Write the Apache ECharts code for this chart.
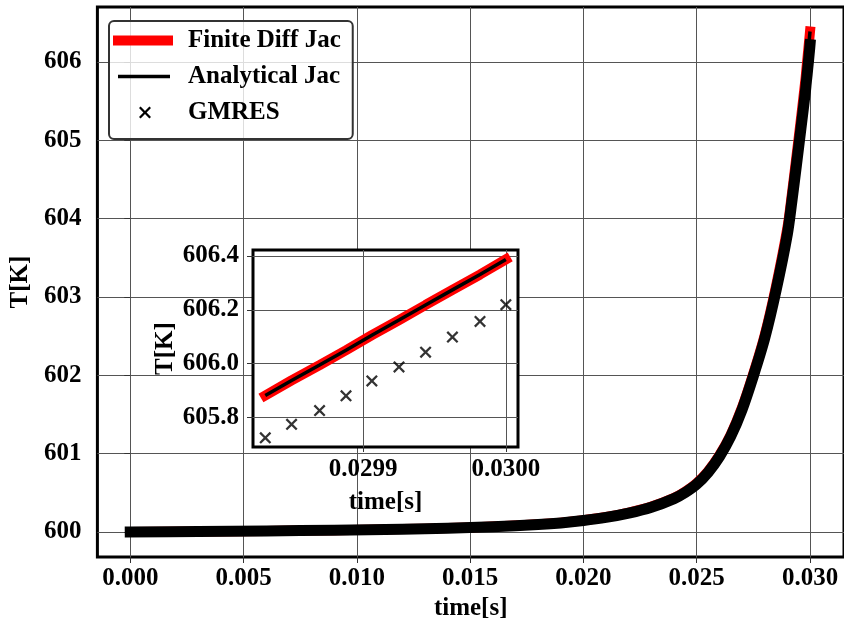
<!DOCTYPE html>
<html><head><meta charset="utf-8">
<script src="https://cdn.jsdelivr.net/npm/echarts@6/dist/echarts.min.js"></script>
<style>html,body{margin:0;padding:0;background:#fff}#c{width:844px;height:626px}</style>
</head><body><div id="c"></div>
<script>
// ---- data ----
// main plot: time [s] and temperature [K] (GMRES band centre and reference Jacobian line)
const timeMain = [0, 0.003, 0.006, 0.009, 0.012, 0.014, 0.016, 0.018, 0.019, 0.020, 0.021, 0.022, 0.023, 0.024, 0.0245, 0.025, 0.0255, 0.026, 0.0265, 0.027, 0.0275, 0.028, 0.0285, 0.029, 0.0292, 0.0294, 0.0296, 0.0298];
const tempGmresMain = [600.000, 600.006, 600.013, 600.022, 600.035, 600.048, 600.066, 600.095, 600.115, 600.145, 600.185, 600.240, 600.315, 600.425, 600.505, 600.610, 600.760, 600.960, 601.220, 601.560, 601.990, 602.470, 603.080, 603.800, 604.220, 604.680, 605.150, 605.630];
const tempFiniteDiffMain = [600.000, 600.006, 600.013, 600.022, 600.036, 600.049, 600.068, 600.098, 600.119, 600.150, 600.191, 600.247, 600.324, 600.436, 600.518, 600.625, 600.777, 600.980, 601.243, 601.590, 602.025, 602.515, 603.140, 603.880, 604.315, 604.790, 605.275, 605.780];
const tempAnalyticalMain = tempFiniteDiffMain; // identical curve in the picture

// inset: last ten time steps
const timeInset = [0.0298316, 0.0298500, 0.0298696, 0.0298881, 0.0299062, 0.0299252, 0.0299438, 0.0299626, 0.0299819, 0.0300000];
const tempGmresInset = [605.725, 605.775, 605.826, 605.881, 605.936, 605.988, 606.043, 606.099, 606.157, 606.219];
const tempFiniteDiffInset = [605.882, 605.938, 605.995, 606.050, 606.106, 606.162, 606.218, 606.274, 606.331, 606.387];
const tempAnalyticalInset = tempFiniteDiffInset;

const seriesNames = ['Finite Diff Jac', 'Analytical Jac', 'GMRES'];

// ---- build ----
const pairs = (xs, ys) => xs.map((x, i) => [x, ys[i]]);
const allTime = timeMain.concat(timeInset);
const FONT = 'Liberation Serif';
const txt = (size) => ({fontFamily: FONT, fontWeight: 'bold', fontSize: size, color: '#000'});
const crossPath = 'path://M0,1.6 L1.6,0 L6,4.4 L10.4,0 L12,1.6 L7.6,6 L12,10.4 L10.4,12 L6,7.6 L1.6,12 L0,10.4 L4.4,6 Z';

const gridLine = {show: true, showMinLine: false, showMaxLine: false, lineStyle: {color: '#555', width: 1}};
const tick = {show: true, inside: false, length: 6, lineStyle: {color: '#333', width: 1}};
const smoothOpt = {smooth: 0.3};

const chart = echarts.init(document.getElementById('c'), null, {renderer: 'canvas'});
chart.setOption({
  animation: false,
  backgroundColor: '#fff',
  textStyle: {fontFamily: FONT},
  grid: [
    {left: 97, top: 7, right: -2, bottom: 69, show: true, backgroundColor: '#fff', borderColor: '#000', borderWidth: 3, z: 0},
    {left: 253, top: 250, width: 265, height: 197, show: true, backgroundColor: '#fff', borderColor: '#000', borderWidth: 3, z: 3}
  ],
  xAxis: [
    {gridIndex: 0, type: 'value', min: -0.00145, max: 0.0315, splitNumber: 5,
     axisLine: {show: false}, axisTick: tick, splitLine: gridLine,
     axisLabel: {...txt(25), margin: 9, showMinLabel: false, showMaxLabel: false, formatter: v => v.toFixed(3)},
     name: 'time[s]', nameLocation: 'middle', nameGap: 38, nameTextStyle: txt(25), z: 0},
    {gridIndex: 1, type: 'value', min: 0.029823, max: 0.0300085, splitNumber: 2,
     axisLine: {show: false}, axisTick: {...tick, length: 5}, splitLine: gridLine,
     axisLabel: {...txt(25), margin: 10, showMinLabel: false, showMaxLabel: false, formatter: v => v.toFixed(4)},
     name: 'time[s]', nameLocation: 'middle', nameGap: 43, nameTextStyle: txt(25), z: 4}
  ],
  yAxis: [
    {gridIndex: 0, type: 'value', min: 599.68, max: 606.70, splitNumber: 5,
     axisLine: {show: false}, axisTick: tick, splitLine: gridLine,
     axisLabel: {...txt(25), margin: 16, showMinLabel: false, showMaxLabel: false, formatter: v => v.toFixed(0)},
     name: 'T[K]', nameLocation: 'middle', nameGap: 58, nameTextStyle: txt(25), z: 0},
    {gridIndex: 1, type: 'value', min: 605.691, max: 606.422, splitNumber: 4,
     axisLine: {show: false}, axisTick: tick, splitLine: gridLine,
     axisLabel: {...txt(25), margin: 14, showMinLabel: false, showMaxLabel: false, formatter: v => v.toFixed(1)},
     name: 'T[K]', nameLocation: 'middle', nameGap: 75, nameTextStyle: txt(25), z: 4}
  ],
  legend: {
    orient: 'vertical', left: 109, top: 21, padding: [7, 12, 14, 4], itemGap: 11,
    itemWidth: 70, itemHeight: 14,
    backgroundColor: 'rgba(255,255,255,0.8)', borderColor: '#333', borderWidth: 2, borderRadius: 5,
    textStyle: {...txt(25), lineHeight: 24},
    itemStyle: {borderWidth: 0},
    selectedMode: false, z: 10,
    data: [
      {name: seriesNames[0], icon: 'path://M0,0 M70,14 M0,2 L60,2 L60,12 L0,12 Z'},
      {name: seriesNames[1], icon: 'path://M0,0 M70,14 M5,5.25 L57,5.25 L57,8.75 L5,8.75 Z'},
      {name: seriesNames[2], icon: 'path://M0,0 M70,14 M26,2.6 L27.6,1 L32,5.4 L36.4,1 L38,2.6 L33.6,7 L38,11.4 L36.4,13 L32,8.6 L27.6,13 L26,11.4 L30.4,7 Z'}
    ]
  },
  series: [
    // main plot
    {name: seriesNames[0], type: 'line', xAxisIndex: 0, yAxisIndex: 0, z: 2, showSymbol: false, symbol: 'none', ...smoothOpt,
     color: '#ff0000', lineStyle: {color: '#ff0000', width: 10, cap: 'square', join: 'round'},
     data: pairs(allTime, tempFiniteDiffMain.concat(tempFiniteDiffInset))},
    {name: seriesNames[1], type: 'line', xAxisIndex: 0, yAxisIndex: 0, z: 2, showSymbol: false, symbol: 'none', ...smoothOpt,
     color: '#000', lineStyle: {color: '#000', width: 3.5, join: 'round'},
     data: pairs(allTime, tempAnalyticalMain.concat(tempAnalyticalInset))},
    {name: seriesNames[2], type: 'line', xAxisIndex: 0, yAxisIndex: 0, z: 2, showSymbol: false, symbol: 'none', ...smoothOpt,
     color: '#000', lineStyle: {color: '#000', width: 11, cap: 'square', join: 'round'},
     data: pairs(allTime, tempGmresMain.concat(tempGmresInset))},
    // inset
    {name: seriesNames[0], type: 'line', xAxisIndex: 1, yAxisIndex: 1, z: 5, showSymbol: false, symbol: 'none',
     color: '#ff0000', lineStyle: {color: '#ff0000', width: 10, cap: 'square'},
     data: pairs(timeInset, tempFiniteDiffInset)},
    {name: seriesNames[1], type: 'line', xAxisIndex: 1, yAxisIndex: 1, z: 5, showSymbol: false, symbol: 'none',
     color: '#000', lineStyle: {color: '#000', width: 3.5},
     data: pairs(timeInset, tempAnalyticalInset)},
    {name: seriesNames[2], type: 'scatter', xAxisIndex: 1, yAxisIndex: 1, z: 6,
     symbol: crossPath, symbolSize: 12, color: '#000', itemStyle: {color: '#000'},
     data: pairs(timeInset, tempGmresInset)}
  ]
});
</script></body></html>
